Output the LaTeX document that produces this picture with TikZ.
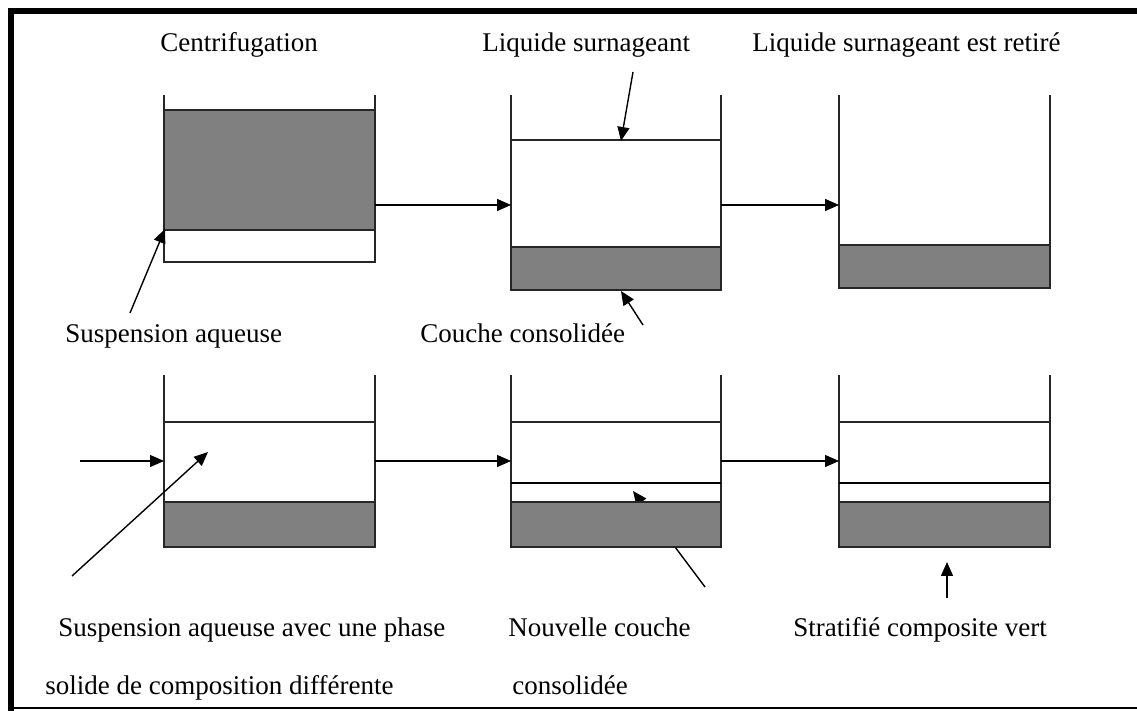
\documentclass[tikz,border=0pt]{standalone}
\usepackage{fontspec}
\setmainfont{Liberation Serif}
\usetikzlibrary{positioning,arrows.meta}

\begin{document}
\begin{tikzpicture}[x=0.5pt,y=-0.5pt,
  wall/.style={line width=0.7pt,draw=black!85},
  solidlayer/.style={wall,fill=black!50},
  flow/.style={line width=0.7pt,-{Triangle[length=7pt,width=6pt]}},
  mytext/.style={inner sep=0pt,anchor=base west,font=\fontsize{13.5}{16}\selectfont}]
  \useasboundingbox (0,0) rectangle (1137,711);
  % frame
  \draw[line width=3pt] (1137,11.5) -- (11,11.5) -- (11,711);
  \draw[line width=1pt] (11,708) -- (1137,708);

  % labels
  \node[mytext] (cent) at (160,52) {Centrifugation};
  \node[mytext] (liq) at (482,52) {Liquide surnageant};
  \node[mytext] (ret) at (752,52) {Liquide surnageant est retiré};
  \node[mytext] (susp) at (65,343) {Suspension aqueuse};
  \node[mytext] (couche) at (420,343) {Couche consolidée};
  \node[mytext] (susp2) at (58,637) {Suspension aqueuse avec une phase};
  \node[mytext] (susp2b) at (45,695) {solide de composition différente};
  \node[mytext] (nouv) at (508,637) {Nouvelle couche};
  \node[mytext] (nouvb) at (512,695) {consolidée};
  \node[mytext] (strat) at (793,637) {Stratifié composite vert};

  % ends of the pointers
  \coordinate (p1) at (130,313);  \coordinate (q1) at (165,229);
  \coordinate (p2) at (633,72);   \coordinate (q2) at (621,141);
  \coordinate (p3) at (643,325);  \coordinate (q3) at (621,291);
  \coordinate (p4) at (72,576);   \coordinate (q4) at (208,452);
  \coordinate (p5) at (705,587);  \coordinate (q5) at (633,491);
  \coordinate (p6) at (947,598);  \coordinate (q6) at (947,562);

  % hidden behind the new layer
  \draw[flow] (p5) -- (q5);

  % top row
  \draw[wall] (164,95) -- (164,262) -- (375,262) -- (375,95);
  \draw[solidlayer] (164,110) rectangle (375,230);
  \draw[wall] (511,95) -- (511,290) -- (721,290) -- (721,95);
  \draw[wall] (511,140) -- (721,140);
  \draw[solidlayer] (511,247) rectangle (721,290);
  \draw[wall] (839,95) -- (839,288) -- (1050,288) -- (1050,95);
  \draw[solidlayer] (839,245) rectangle (1050,288);

  % bottom row
  \draw[wall] (164,375) -- (164,547) -- (375,547) -- (375,375);
  \draw[wall] (164,422) -- (375,422);
  \draw[solidlayer] (164,502) rectangle (375,547);
  \foreach \xl/\xr in {511/721,839/1050}{
    \draw[wall] (\xl,375) -- (\xl,547) -- (\xr,547) -- (\xr,375);
    \draw[wall] (\xl,422) -- (\xr,422);
    \draw[line width=0.9pt] (\xl,483) -- (\xr,483);
    \draw[solidlayer] (\xl,502) rectangle (\xr,547);
  }

  % steps
  \coordinate (a1) at (375,205); \coordinate (b1) at (511,205);
  \coordinate (a2) at (721,205); \coordinate (b2) at (839,205);
  \coordinate (in) at (80,461);  \coordinate (c0) at (164,461);
  \coordinate (a3) at (375,461); \coordinate (b3) at (511,461);
  \coordinate (a4) at (721,461); \coordinate (b4) at (839,461);
  \draw[flow] (a1) -- (b1);
  \draw[flow] (a2) -- (b2);
  \draw[flow] (in) -- (c0);
  \draw[flow] (a3) -- (b3);
  \draw[flow] (a4) -- (b4);

  % pointers
  \draw[flow] (p1) -- (q1);
  \draw[flow] (p2) -- (q2);
  \draw[flow] (p3) -- (q3);
  \draw[flow] (p4) -- (q4);
  \draw[flow] (p6) -- (q6);
\end{tikzpicture}
\end{document}
